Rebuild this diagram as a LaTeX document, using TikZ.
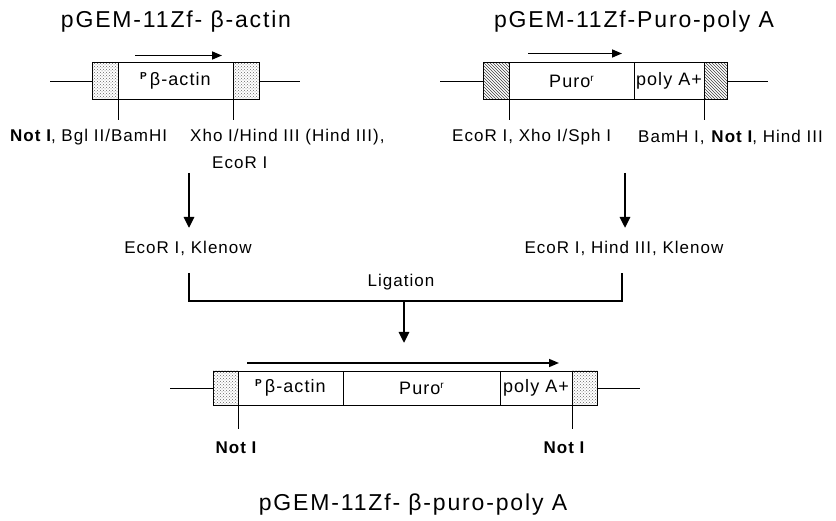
\documentclass[tikz,border=0pt]{standalone}
\usepackage{fontspec}
\setmainfont{Liberation Sans}
\usetikzlibrary{arrows.meta, positioning, patterns}
\newfontfamily\gulimlike[LetterSpace=6]{Liberation Sans}
\newfontfamily\gulimwide[LetterSpace=8]{Liberation Sans}
\newcommand{\lblfont}{\gulimlike\fontsize{17}{20}\selectfont}
\newcommand{\ttlfont}{\gulimwide\fontsize{23}{27}\selectfont}
\newcommand{\segfont}{\gulimlike\fontsize{18}{21}\selectfont}
\newcommand{\promsup}{\raisebox{6pt}{\fontsize{10}{10}\selectfont\bfseries P}}
\newcommand{\resup}{\raisebox{6pt}{\fontsize{10}{10}\selectfont r}}
\tikzset{
    seg/.style={
        rectangle,
        draw=black,
        line width=0.8pt,
        inner sep=0pt,
        outer sep=0pt,
        font=\segfont
    },
    dotseg/.style={seg, pattern=crosshatch dots, pattern color=black!60},
    hatchseg/.style={seg, pattern=north west lines, pattern color=black!75},
    lbl/.style={inner sep=0pt, font=\lblfont},
    ttl/.style={inner sep=0pt, font=\ttlfont},
    dnaline/.style={line width=0.9pt},
    bracketline/.style={line width=1.1pt},
    strandarrow/.style={-{Triangle[length=10pt,width=8pt]}, line width=1.5pt},
    bigarrow/.style={-{Triangle[length=11pt,width=10pt]}, line width=2.6pt}
}
\begin{document}
\begin{tikzpicture}[x=1pt, y=-1pt]
    \useasboundingbox (0,0) rectangle (836,521);
    % pGEM-11Zf- beta-actin
    \node[ttl] (tA) at (176,22) {pGEM-11Zf- β-actin};
    \node[dotseg, minimum width=26, minimum height=37] (a1) at (105,81) {};
    \node[seg, minimum width=115, minimum height=37, right=0pt of a1] (a2) {\promsup\,β-actin};
    \node[dotseg, minimum width=26, minimum height=37, right=0pt of a2] (a3) {};
    \draw[dnaline] (a1.west) -- ++(-42,0);
    \draw[dnaline] (a3.east) -- ++(41,0);
    \draw[strandarrow] ([xshift=17pt,yshift=7pt]a2.north west) -- ++(87,0);
    \draw[dnaline] (a2.south west) -- ++(0,21);
    \draw[dnaline] (a3.south west) -- ++(0,21);
    \node[lbl, anchor=west] (cutA1) at (10,137) {\textbf{Not I}, Bgl II/BamHI};
    \node[lbl, anchor=west] (cutA2) at (190,137) {Xho I/Hind III (Hind III),};
    \node[lbl, anchor=west] (cutA3) at (212,163) {EcoR I};

    % pGEM-11Zf-Puro-poly A
    \node[ttl] (tB) at (634,22) {pGEM-11Zf-Puro-poly A};
    \node[hatchseg, minimum width=26, minimum height=37] (b1) at (496,81) {};
    \node[seg, minimum width=125, minimum height=37, right=0pt of b1] (b2) {Puro\resup};
    \node[seg, minimum width=70, minimum height=37, right=0pt of b2] (b3) {poly A+};
    \node[hatchseg, minimum width=23, minimum height=37, right=0pt of b3] (b4) {};
    \draw[dnaline] (b1.west) -- ++(-43,0);
    \draw[dnaline] (b4.east) -- ++(41,0);
    \draw[strandarrow] ([xshift=19pt,yshift=9pt]b2.north west) -- ++(94,0);
    \draw[dnaline] (b2.south west) -- ++(0,21);
    \draw[dnaline] (b4.south west) -- ++(0,21);
    \node[lbl, anchor=west] (cutB1) at (452,137) {EcoR I, Xho I/Sph I};
    \node[lbl, anchor=west] (cutB2) at (638,137) {BamH I, \textbf{Not I}, Hind III};

    % digestion and ligation
    \coordinate (dA) at (189,173);
    \coordinate (dB) at (625,173);
    \draw[bigarrow] (dA) -- ++(0,55);
    \draw[bigarrow] (dB) -- ++(0,55);
    \node[lbl] (kA) at (188,248) {EcoR I, Klenow};
    \node[lbl] (kB) at (624,248) {EcoR I, Hind III, Klenow};
    \coordinate (jA) at (189,273);
    \coordinate (jB) at (622,273);
    \draw[bracketline] (jA) -- ++(0,28) -| (jB);
    \node[lbl] (lig) at (401,282) {Ligation};
    \coordinate (jM) at (404,301);
    \draw[bigarrow] (jM) -- ++(0,42);

    % pGEM-11Zf- beta-puro-poly A
    \node[dotseg, minimum width=25, minimum height=34] (c1) at (225.5,388) {};
    \node[seg, minimum width=105, minimum height=34, right=0pt of c1] (c2) {\promsup\,β-actin};
    \node[seg, minimum width=157, minimum height=34, right=0pt of c2] (c3) {Puro\resup};
    \node[seg, minimum width=72, minimum height=34, right=0pt of c3] (c4) {poly A+};
    \node[dotseg, minimum width=25, minimum height=34, right=0pt of c4] (c5) {};
    \draw[dnaline] (c1.west) -- ++(-43,0);
    \draw[dnaline] (c5.east) -- ++(43,0);
    \draw[strandarrow] ([xshift=9pt,yshift=8pt]c2.north west) -- ++(312,0);
    \draw[dnaline] (c2.south west) -- ++(0,24);
    \draw[dnaline] (c5.south west) -- ++(0,24);
    \node[lbl, font=\lblfont\bfseries] (notA) at (236,448) {Not I};
    \node[lbl, font=\lblfont\bfseries] (notB) at (564,448) {Not I};
    \node[ttl] (tC) at (413,505) {pGEM-11Zf- β-puro-poly A};
\end{tikzpicture}
\end{document}
